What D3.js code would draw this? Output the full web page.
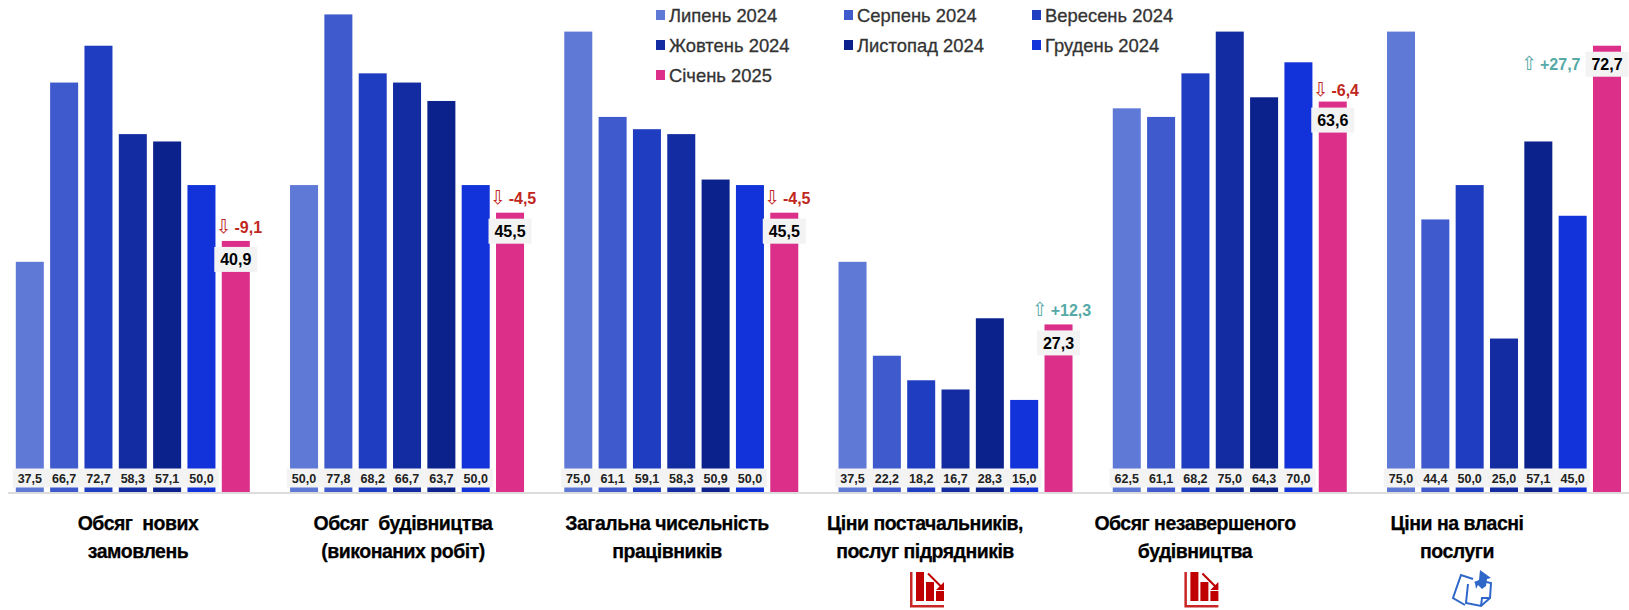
<!DOCTYPE html>
<html>
<head>
<meta charset="utf-8">
<script src="https://cdn.jsdelivr.net/npm/d3@7"></script>
<style>
    body { margin: 0; background: #fff; }
    text { font-family: "Liberation Sans", sans-serif; }
</style>
</head>
<body>
<div id="chart-container"></div>
<script>
const months = ["Липень 2024", "Серпень 2024", "Вересень 2024", "Жовтень 2024", "Листопад 2024", "Грудень 2024", "Січень 2025"];
const colors = ["#5f79d6", "#3f5acd", "#1f3dc0", "#132ca1", "#0b228d", "#1133d9", "#db2f8a"];
const categories = ["orders", "works", "staff", "suppliers", "unfinished", "prices"];
const titles = [
    ["Обсяг  нових", "замовлень"],
    ["Обсяг  будівництва", "(виконаних робіт)"],
    ["Загальна чисельність", "працівників"],
    ["Ціни постачальників,", "послуг підрядників"],
    ["Обсяг незавершеного", "будівництва"],
    ["Ціни на власні", "послуги"]
];
const orders = [37.5, 66.7, 72.7, 58.3, 57.1, 50.0, 40.9];
const works = [50.0, 77.8, 68.2, 66.7, 63.7, 50.0, 45.5];
const staff = [75.0, 61.1, 59.1, 58.3, 50.9, 50.0, 45.5];
const suppliers = [37.5, 22.2, 18.2, 16.7, 28.3, 15.0, 27.3];
const unfinished = [62.5, 61.1, 68.2, 75.0, 64.3, 70.0, 63.6];
const prices = [75.0, 44.4, 50.0, 25.0, 57.1, 45.0, 72.7];
const series = [orders, works, staff, suppliers, unfinished, prices];
const deltas = ["-9,1", "-4,5", "-4,5", "+12,3", "-6,4", "+27,7"];

const width = 1629;
const height = 610;
const baseline = 492;

const fmt = v => v.toFixed(1).replace(".", ",");

const x0 = d3.scalePoint().domain(categories).range([15.8, 1387]);
const x1 = d3.scaleBand().domain(months).range([0, 234]).paddingInner(0.184);
const y = d3.scaleLinear().domain([0, 75]).range([baseline, 31.6]);
const color = d3.scaleOrdinal().domain(months).range(colors);

// titles are not centred on the bar groups in the original
const titleX = d3.scaleOrdinal().domain(categories).range([138, 403, 667, 925, 1195, 1457]);

const svg = d3.select("#chart-container").append("svg")
    .attr("width", width)
    .attr("height", height)
    .style("display", "block");

// Baseline
svg.append("line")
    .attr("x1", 8).attr("x2", width)
    .attr("y1", baseline + 1).attr("y2", baseline + 1)
    .attr("stroke", "#dcdcdc")
    .attr("stroke-width", 2);

const groups = svg.selectAll(".group")
    .data(categories.map((name, i) => ({ name, values: series[i], title: titles[i], delta: deltas[i] })))
    .enter().append("g")
    .attr("class", "group")
    .attr("transform", d => `translate(${x0(d.name)},0)`);

const rows = d => d.values.map((value, i) => ({ month: months[i], value }));

groups.selectAll("rect.bar")
    .data(rows)
    .enter().append("rect")
    .attr("class", "bar")
    .attr("x", d => x1(d.month))
    .attr("y", d => y(d.value))
    .attr("width", x1.bandwidth())
    .attr("height", d => baseline - y(d.value))
    .attr("fill", d => color(d.month));

// Value labels at the bottom, last month sits on top of its bar
const bottomRows = d => rows(d).slice(0, 6);
const step = x1.step();

groups.selectAll("rect.band")
    .data(bottomRows)
    .enter().append("rect")
    .attr("class", "band")
    .attr("x", d => x1(d.month) + x1.bandwidth() / 2 - step / 2)
    .attr("y", 468.5)
    .attr("width", step)
    .attr("height", 19)
    .attr("fill", "#f3f3f3");

groups.selectAll("text.val")
    .data(bottomRows)
    .enter().append("text")
    .attr("class", "val")
    .attr("x", d => x1(d.month) + x1.bandwidth() / 2)
    .attr("y", 478)
    .attr("dy", "0.36em")
    .attr("text-anchor", "middle")
    .attr("font-size", 12.5)
    .attr("font-weight", 700)
    .attr("fill", "#222")
    .text(d => fmt(d.value));

// Last month label and change
const lastMonth = months[months.length - 1];
const lastX = x1(lastMonth) + x1.bandwidth() / 2;
const lastValue = d => d.values[d.values.length - 1];

groups.append("rect")
    .attr("x", lastX - 21.5)
    .attr("y", d => y(lastValue(d)) + 6)
    .attr("width", 43)
    .attr("height", 25)
    .attr("fill", "#f3f3f3");

groups.append("text")
    .attr("x", lastX)
    .attr("y", d => y(lastValue(d)) + 18.5)
    .attr("dy", "0.36em")
    .attr("text-anchor", "middle")
    .attr("font-size", 16)
    .attr("font-weight", 700)
    .attr("fill", "#000")
    .text(d => fmt(lastValue(d)));

const delta = groups.append("text")
    .attr("font-size", 16)
    .attr("font-weight", 700)
    .attr("dy", "0.36em")
    .attr("fill", d => d.delta[0] === "+" ? "#55a9a6" : "#c0281e")
    // no room above the tallest bar, so the label moves to its left
    .attr("x", d => y(lastValue(d)) < 60 ? lastX - 26.5 : lastX + 3)
    .attr("y", d => {
        if (y(lastValue(d)) < 60) return y(lastValue(d)) + 19;
        return y(lastValue(d)) - (d.name === "unfinished" ? 11 : 14);
    })
    .attr("text-anchor", d => y(lastValue(d)) < 60 ? "end" : "middle");

delta.append("tspan")
    .attr("font-family", "DejaVu Sans")
    .attr("font-size", 19)
    .attr("font-weight", 400)
    .text(d => d.delta[0] === "+" ? "⇧" : "⇩");
delta.append("tspan")
    .attr("dx", 3)
    .text(d => d.delta);

// Group titles
const title = svg.selectAll(".title")
    .data(categories.map((name, i) => ({ name, lines: titles[i] })))
    .enter().append("text")
    .attr("class", "title")
    .attr("text-anchor", "middle")
    .attr("font-size", 19.5)
    .attr("font-weight", 700)
    .attr("letter-spacing", -0.5)
    .attr("fill", "#000")
    .attr("stroke", "#000")
    .attr("stroke-width", 0.25)
    .style("white-space", "pre");

title.selectAll("tspan")
    .data(d => d.lines.map((line, i) => ({ line, i, name: d.name })))
    .enter().append("tspan")
    .attr("x", d => titleX(d.name))
    .attr("y", d => 523 + d.i * 27.5)
    .attr("dy", "0.36em")
    .text(d => d.line);

// Legend
const legendCol = d3.scalePoint().domain([0, 1, 2]).range([656, 1032]);
const legend = svg.selectAll(".legend")
    .data(months)
    .enter().append("g")
    .attr("class", "legend")
    .attr("transform", (d, i) => `translate(${legendCol(i % 3)},${15 + Math.floor(i / 3) * 30})`);

legend.append("rect")
    .attr("y", -5)
    .attr("width", 9)
    .attr("height", 10)
    .attr("fill", d => color(d));

legend.append("text")
    .attr("x", 13)
    .attr("dy", "0.36em")
    .attr("font-size", 18.4)
    .attr("fill", "#333")
    .attr("stroke", "#333")
    .attr("stroke-width", 0.3)
    .text(d => d);

// Icons under the titles
function redIcon(cx) {
    const g = svg.append("g").attr("transform", `translate(${cx},572)`).attr("fill", "#c00000");
    g.append("path").attr("d", "M0 0H2.5V33H34V35.5H0Z").attr("opacity", 0.85);
    g.append("rect").attr("x", 6).attr("width", 8).attr("height", 29);
    g.append("rect").attr("x", 16).attr("y", 10).attr("width", 8).attr("height", 19);
    g.append("rect").attr("x", 26).attr("y", 19).attr("width", 8).attr("height", 10);
    g.append("path").attr("d", "M18 1.5L33 16.5").attr("stroke", "#c00000").attr("stroke-width", 2);
    g.append("path").attr("d", "M34 18H26L34 10Z");
}
redIcon(910);
redIcon(1184.4);

const pin = svg.append("g").attr("transform", "translate(1440,565)");
pin.append("path")
    .attr("d", "M25 40L13 33L21 10L33 14")
    .attr("fill", "none").attr("stroke", "#2f67c8").attr("stroke-width", 2);
pin.append("path")
    .attr("d", "M28 19L26 38L41 41L50 33L51 18L46 17M41 41L42 33L50 33")
    .attr("fill", "#fff").attr("stroke", "#2f67c8").attr("stroke-width", 2);
pin.append("path")
    .attr("d", "M40 5L51 13L47 14L46 21L42 24L38 20L36 24L35 18L34 17L39 15Z")
    .attr("fill", "#2f67c8");
</script>
</body>
</html>
